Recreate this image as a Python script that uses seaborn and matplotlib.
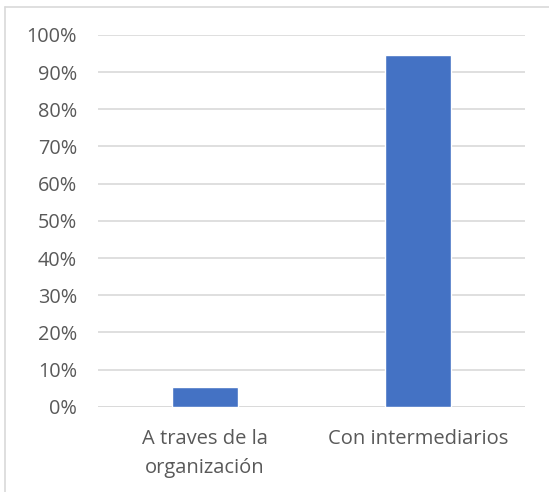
import matplotlib.pyplot as plt
import matplotlib.ticker as mtick
from matplotlib.lines import Line2D
import seaborn as sns
import pandas as pd

# Data
categories = ["A traves de la\norganización", "Con intermediarios"]
values = [5.3, 94.7]

df = pd.DataFrame({"cat": categories, "val": values})

sns.set_style("white")
plt.rcParams["font.family"] = ["Open Sans", "DejaVu Sans"]

fig = plt.figure(figsize=(5.49, 4.92), dpi=100)
ax = fig.add_axes([0.1785, 0.1734, 0.7778, 0.7555])

sns.barplot(data=df, x="cat", y="val", color="#4472C4", width=0.31,
            saturation=1, ax=ax, zorder=3)

ax.set_ylim(0, 100)
ax.set_yticks(range(0, 101, 10))
ax.yaxis.set_major_formatter(mtick.PercentFormatter(decimals=0))
ax.set_xlim(-0.5, 1.5)
ax.grid(axis="y", color="#D9D9D9", linewidth=1.2, zorder=0)
ax.set_axisbelow(True)
for s in ax.spines.values():
    s.set_visible(False)
ax.axhline(0, color="#D9D9D9", linewidth=1.2, zorder=1)

ax.set_xlabel("")
ax.set_ylabel("")
ax.tick_params(axis="y", length=0, pad=15, labelsize=14.3, labelcolor="#595959")
ax.tick_params(axis="x", length=0, pad=16, labelsize=14.5, labelcolor="#595959")
for t in ax.get_xticklabels():
    t.set_linespacing(1.6)

# chart border (only top and left edges fall inside the image)
fig.lines.append(Line2D([4.5 / 549, 4.5 / 549], [0, 1 - 6.7 / 492],
                        transform=fig.transFigure, color="#D9D9D9", linewidth=1.2))
fig.lines.append(Line2D([4.5 / 549, 1], [1 - 6.7 / 492, 1 - 6.7 / 492],
                        transform=fig.transFigure, color="#D9D9D9", linewidth=1.2))

fig.savefig("out.png", dpi=100)
